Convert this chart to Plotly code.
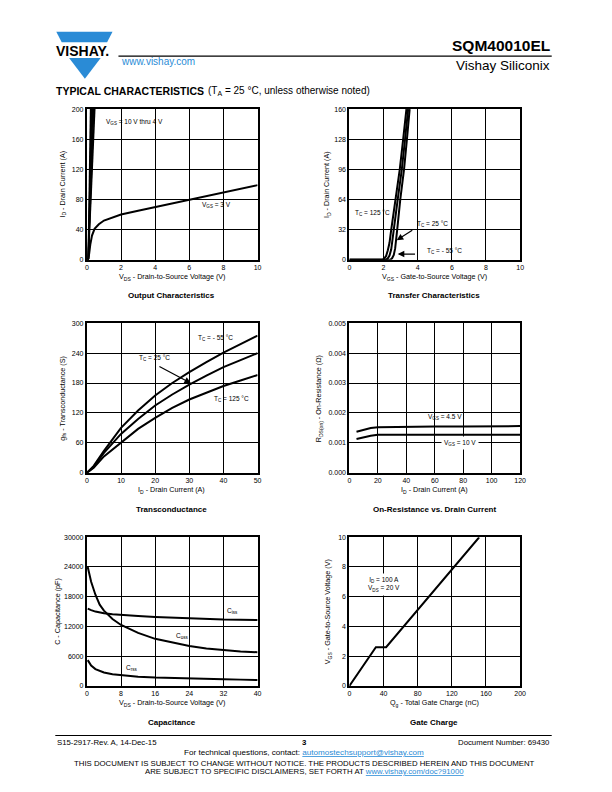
import plotly.graph_objects as go

W, H = 612, 792
FONT = "Liberation Sans, Arial, Helvetica, sans-serif"
BLUE = "#2a8bd6"

def px(x):
    return x / W

def py(y):
    return 1 - y / H

# ---------------- data ----------------
# Output characteristics
out_vds_3v = [0, 0.1, 0.2, 0.3, 0.45, 0.7, 1.0, 1.5, 2, 3, 4, 5, 6, 7, 8, 9, 10]
out_id_3v = [0, 2, 20, 32, 41, 47, 52, 56.5, 60, 65, 70, 74, 79, 84, 89, 94, 99]
out_id_hi = [0, 50, 100, 150, 200]
out_vds_hi = [
    [0.08, 0.12, 0.16, 0.19, 0.22],
    [0.08, 0.13, 0.18, 0.23, 0.28],
    [0.08, 0.15, 0.21, 0.28, 0.34],
    [0.08, 0.16, 0.24, 0.32, 0.40],
    [0.08, 0.18, 0.27, 0.37, 0.46],
]

# Transfer characteristics
tr_vgs_125 = [0, 1.95, 2.05, 2.15, 2.25, 2.35, 2.45, 2.7, 2.95, 3.15, 3.34]
tr_id_125 = [0, 0, 1.5, 4, 10, 18, 32, 64, 96, 128, 160]
tr_vgs_25 = [0, 2.15, 2.25, 2.35, 2.45, 2.52, 2.6, 2.83, 3.07, 3.26, 3.44]
tr_id_25 = [0, 0, 1.5, 4.5, 11, 19, 32, 64, 96, 128, 160]
tr_vgs_m55 = [0, 2.4, 2.5, 2.6, 2.68, 2.74, 2.8, 2.98, 3.2, 3.37, 3.53]
tr_id_m55 = [0, 0, 1.5, 5, 12, 20, 32, 64, 96, 128, 160]

# Transconductance
gfs_id = [0, 2, 5, 10, 15, 20, 25, 30, 35, 40, 45, 50]
gfs_m55 = [0, 14, 44, 90, 125, 155, 180, 202, 222, 241, 258, 275]
gfs_25 = [0, 12, 40, 78, 108, 135, 157, 177, 195, 212, 226, 240]
gfs_125 = [0, 10, 33, 60, 88, 110, 130, 147, 161, 174, 185, 196]

# On-resistance vs drain current
rds_id = [5, 8, 12, 15, 20, 30, 40, 60, 80, 100, 120]
rds_45v = [0.00137, 0.00141, 0.00147, 0.00150, 0.00152, 0.00153, 0.00154,
           0.00155, 0.00155, 0.00156, 0.00156]
rds_10v = [0.00113, 0.00117, 0.00122, 0.00124, 0.00127, 0.00127, 0.00127,
           0.00127, 0.00127, 0.00127, 0.00127]

# Capacitance
cap_vds = [0.2, 0.5, 1, 2, 3, 4, 6, 8, 12, 16, 20, 24, 28, 32, 36, 40]
cap_ciss = [15600, 15450, 15300, 15000, 14800, 14650, 14450, 14300, 14100,
            13900, 13750, 13600, 13500, 13400, 13350, 13300]
cap_coss = [24000, 22800, 21000, 18400, 16400, 15200, 13500, 12300, 10700,
            9500, 8700, 8050, 7550, 7200, 6950, 6800]
cap_crss = [5200, 4700, 4100, 3400, 3000, 2700, 2350, 2150, 1850, 1680,
            1560, 1470, 1400, 1340, 1270, 1200]

# Gate charge
gc_qg = [0, 31, 43, 152]
gc_vgs = [0, 2.6, 2.6, 10]

# ticks
t1x = [0, 2, 4, 6, 8, 10]; t1y = [0, 40, 80, 120, 160, 200]
t2x = [0, 2, 4, 6, 8, 10]; t2y = [0, 32, 64, 96, 128, 160]
t3x = [0, 10, 20, 30, 40, 50]; t3y = [0, 60, 120, 180, 240, 300]
t4x = [0, 20, 40, 60, 80, 100, 120]; t4y = [0, 0.001, 0.002, 0.003, 0.004, 0.005]
t5x = [0, 8, 16, 24, 32, 40]; t5y = [0, 6000, 12000, 18000, 24000, 30000]
t6x = [0, 40, 80, 120, 160, 200]; t6y = [0, 2, 4, 6, 8, 10]

# ---------------- layout geometry (pixels) ----------------
COLS = [(86, 259), (352, 525)]
ROWS = [(106, 258), (322, 473), (538, 688)]

fig = go.Figure()

def add(xs, ys, i, width=2):
    fig.add_trace(go.Scatter(x=xs, y=ys, mode="lines",
                             line=dict(color="black", width=width),
                             xaxis=f"x{i}", yaxis=f"y{i}",
                             showlegend=False, hoverinfo="skip"))

# chart 1
add(out_vds_3v, out_id_3v, 1)
for v in out_vds_hi:
    add(v, out_id_hi, 1, 1.6)
# chart 2
add(tr_vgs_125, tr_id_125, 2)
add(tr_vgs_25, tr_id_25, 2)
add(tr_vgs_m55, tr_id_m55, 2)
# chart 3
add(gfs_id, gfs_m55, 3)
add(gfs_id, gfs_25, 3)
add(gfs_id, gfs_125, 3)
# chart 4
add(rds_id, rds_45v, 4)
add(rds_id, rds_10v, 4)
# chart 5
add(cap_vds, cap_ciss, 5)
add(cap_vds, cap_coss, 5)
add(cap_vds, cap_crss, 5)
# chart 6
add(gc_qg, gc_vgs, 6)

specs = [
    (1, 0, 0, [0, 10], t1x, [0, 200], t1y, None),
    (2, 1, 0, [0, 10], t2x, [0, 160], t2y, None),
    (3, 0, 1, [0, 50], t3x, [0, 300], t3y, None),
    (4, 1, 1, [0, 120], t4x, [0, 0.005], t4y, ".3f"),
    (5, 0, 2, [0, 40], t5x, [0, 30000], t5y, "d"),
    (6, 1, 2, [0, 200], t6x, [0, 10], t6y, None),
]

axis_common = dict(showline=True, mirror=True, linecolor="black", linewidth=2,
                   showgrid=True, gridcolor="black", gridwidth=1.4,
                   zeroline=False, ticks="", fixedrange=True,
                   tickfont=dict(family=FONT, size=7, color="black"))

lay = {}
for i, c, r, xr, xt, yr, yt, yfmt in specs:
    x0, x1 = COLS[c]
    y0, y1 = ROWS[r]
    xa = dict(axis_common, domain=[px(x0), px(x1)], range=xr, tickmode="array",
              tickvals=xt, anchor=f"y{i}")
    ya = dict(axis_common, domain=[py(y1), py(y0)], range=yr, tickmode="array",
              tickvals=yt, anchor=f"x{i}")
    if yfmt:
        ya["tickformat"] = yfmt
    lay[f"xaxis{i}"] = xa
    lay[f"yaxis{i}"] = ya

fig.update_layout(width=W, height=H, margin=dict(l=0, r=0, t=0, b=0),
                  paper_bgcolor="white", plot_bgcolor="white",
                  font=dict(family=FONT, color="black"), showlegend=False, **lay)

ann = []

def ptext(x, y, text, size=7, xanchor="center", yanchor="middle", bold=False,
          color="black", angle=0):
    if bold:
        text = f"<b>{text}</b>"
    ann.append(dict(x=px(x), y=py(y), xref="paper", yref="paper", text=text,
                    showarrow=False, xanchor=xanchor, yanchor=yanchor,
                    textangle=angle,
                    font=dict(family=FONT, size=size, color=color)))

def dtext(i, x, y, text, size=6.5, xanchor="left", bg=None, align="left"):
    d = dict(x=x, y=y, xref=f"x{i}", yref=f"y{i}", text=text, showarrow=False,
             xanchor=xanchor, yanchor="middle", align=align,
             font=dict(family=FONT, size=size, color="black"))
    if bg:
        d["bgcolor"] = bg
        d["borderpad"] = 2
    ann.append(d)

def arrow(i, hx, hy, tx, ty):
    ann.append(dict(x=hx, y=hy, ax=tx, ay=ty, xref=f"x{i}", yref=f"y{i}",
                    axref=f"x{i}", ayref=f"y{i}", text="", showarrow=True,
                    arrowhead=2, arrowsize=1.1, arrowwidth=1.2, arrowcolor="black"))

# header
ptext(557, 42, "SQM40010EL", size=15.5, xanchor="right", bold=True)
ptext(557, 62, "Vishay Siliconix", size=13.5, xanchor="right")
ptext(119, 58.5, "www.vishay.com", size=10, xanchor="left", color=BLUE)
ptext(52.5, 47.5, "VISHAY.", size=14, xanchor="left", bold=True)
ptext(53, 88, "TYPICAL CHARACTERISTICS", size=10.5, xanchor="left", bold=True)
ptext(207, 88, "(T<sub>A</sub> = 25 °C, unless otherwise noted)", size=10, xanchor="left")

# chart titles
ptext(172, 294, "Output Characteristics", size=8, bold=True)
ptext(438, 294, "Transfer Characteristics", size=8, bold=True)
ptext(172, 510, "Transconductance", size=8, bold=True)
ptext(438, 510, "On-Resistance vs. Drain Current", size=8, bold=True)
ptext(172, 725, "Capacitance", size=8, bold=True)
ptext(438, 725, "Gate Charge", size=8, bold=True)

# axis titles
AT = 7.2
ptext(172, 275, "V<sub>DS</sub> - Drain-to-Source Voltage (V)", size=AT)
ptext(438, 275, "V<sub>GS</sub> - Gate-to-Source Voltage (V)", size=AT)
ptext(172, 490, "I<sub>D</sub> - Drain Current (A)", size=AT)
ptext(438, 490, "I<sub>D</sub> - Drain Current (A)", size=AT)
ptext(172, 705, "V<sub>DS</sub> - Drain-to-Source Voltage (V)", size=AT)
ptext(438, 705, "Q<sub>g</sub> - Total Gate Charge (nC)", size=AT)
ptext(62, 182, "I<sub>D</sub> - Drain Current (A)", size=AT, angle=-90)
ptext(330, 182, "I<sub>D</sub> - Drain Current (A)", size=AT, angle=-90)
ptext(62, 398, "g<sub>fs</sub> - Transconductance (S)", size=AT, angle=-90)
ptext(322, 398, "R<sub>DS(on)</sub> - On-Resistance (Ω)", size=AT, angle=-90)
ptext(56, 613, "C - Capacitance (pF)", size=AT, angle=-90)
ptext(330, 613, "V<sub>GS</sub> - Gate-to-Source Voltage (V)", size=AT, angle=-90)

# curve labels
dtext(1, 1.0, 183, "V<sub>GS</sub> = 10 V thru 4 V")
dtext(1, 6.6, 72, "V<sub>GS</sub> = 3 V")
dtext(2, 0.23, 50, "T<sub>C</sub> = 125 °C")
dtext(2, 3.85, 38, "T<sub>C</sub> = 25 °C")
dtext(2, 4.41, 9, "T<sub>C</sub> = - 55 °C")
arrow(2, 2.77, 20.7, 3.77, 32.3)
arrow(2, 2.83, 6, 3.93, 6)
dtext(3, 32.1, 270, "T<sub>C</sub> = - 55 °C")
dtext(3, 14.7, 231, "T<sub>C</sub> = 25 °C")
dtext(3, 36.7, 147, "T<sub>C</sub> = 125 °C")
arrow(3, 30.5, 179.5, 20.8, 214.7)
dtext(4, 67, 0.00186, "V<sub>GS</sub> = 4.5 V", xanchor="center")
dtext(4, 78, 0.001, "V<sub>GS</sub> = 10 V", xanchor="center", bg="white")
dtext(5, 32.4, 15200, "C<sub>iss</sub>")
dtext(5, 20.3, 10000, "C<sub>oss</sub>")
dtext(5, 8.6, 3600, "C<sub>rss</sub>")
dtext(6, 40.7, 6.8, "I<sub>D</sub> = 100 A<br>V<sub>DS</sub> = 20 V", xanchor="center",
      bg="white", align="center")

# footer
ptext(54, 745, "S15-2917-Rev. A, 14-Dec-15", size=7.8, xanchor="left")
ptext(306, 745.5, "3", size=7.8, bold=True)
ptext(557, 745, "Document Number: 69430", size=7.8, xanchor="right")
ptext(306, 755.5, "For technical questions, contact: <span style='color:" + BLUE +
      "'><u>automostechsupport@vishay.com</u></span>", size=8.1)
ptext(306, 766, "THIS DOCUMENT IS SUBJECT TO CHANGE WITHOUT NOTICE. THE PRODUCTS DESCRIBED HEREIN AND THIS DOCUMENT",
      size=7.8)
ptext(306, 774.5, "ARE SUBJECT TO SPECIFIC DISCLAIMERS, SET FORTH AT <span style='color:" + BLUE +
      "'><u>www.vishay.com/doc?91000</u></span>", size=7.8)

fig.update_layout(annotations=ann)

# decorative shapes: logo, header and footer rules
shapes = [
    dict(type="path", xref="paper", yref="paper",
         path=f"M {px(55)},{py(28)} L {px(112)},{py(28)} L {px(106.5)},{py(38.5)} L {px(60.5)},{py(38.5)} Z",
         fillcolor=BLUE, line=dict(width=0)),
    dict(type="path", xref="paper", yref="paper",
         path=f"M {px(68)},{py(54.5)} L {px(100)},{py(54.5)} L {px(84)},{py(75.5)} Z",
         fillcolor=BLUE, line=dict(width=0)),
    dict(type="line", xref="paper", yref="paper", x0=px(118), x1=px(557),
         y0=py(52.5), y1=py(52.5), line=dict(color="black", width=1.2)),
    dict(type="line", xref="paper", yref="paper", x0=px(54), x1=px(557),
         y0=py(738), y1=py(738), line=dict(color="black", width=1.2)),
]
fig.update_layout(shapes=shapes)

fig.write_html("out.html", config={"displayModeBar": False},
               post_script="document.body.style.margin='0';document.body.style.padding='0';")
